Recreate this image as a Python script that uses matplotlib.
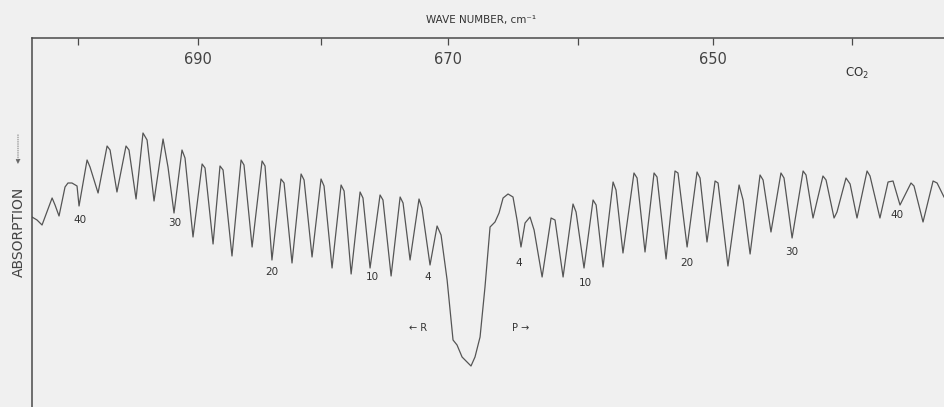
import numpy as np
import matplotlib
matplotlib.use('Agg')
import matplotlib.pyplot as plt

# recorder trace, CO2 bending band (wave number in cm-1, pen deflection in chart units)
wavenumber = [703.93, 703.50, 703.07, 702.21, 701.96, 701.62, 701.11, 700.86, 700.52, 700.09,
              699.92, 699.24, 698.99, 698.31, 697.55, 697.30, 696.72, 695.96, 695.71, 695.12,
              694.54, 694.20, 693.62, 692.87, 692.46, 691.96, 691.30, 691.05, 690.39, 689.64,
              689.40, 688.74, 688.17, 687.92, 687.19, 686.45, 686.21, 685.55, 684.74, 684.50,
              683.94, 683.21, 682.96, 682.32, 681.59, 681.35, 680.71, 679.99, 679.75, 679.11,
              678.39, 678.15, 677.59, 676.88, 676.65, 676.09, 675.30, 675.07, 674.43, 673.72,
              673.49, 672.94, 672.24, 672.01, 671.38, 670.83, 670.52, 670.05, 669.59, 669.28,
              668.89, 668.51, 668.20, 667.89, 667.50, 667.12, 666.73, 666.35, 666.04, 665.73,
              665.35, 664.97, 664.66, 664.36, 664.05, 663.67, 663.36, 662.75, 662.07, 661.77,
              661.16, 660.41, 660.18, 659.58, 658.90, 658.67, 658.15, 657.40, 657.18, 656.66,
              655.84, 655.61, 655.02, 654.35, 654.13, 653.46, 652.80, 652.58, 651.91, 651.18,
              650.96, 650.45, 649.86, 649.64, 648.92, 648.11, 647.82, 647.31, 646.59, 646.37,
              645.80, 645.08, 644.86, 644.28, 643.49, 643.28, 642.78, 642.07, 641.85, 641.28,
              641.07, 640.43, 640.14, 639.65, 638.94, 638.73, 638.03, 637.46, 637.11, 636.62,
              635.85, 635.64, 635.01, 634.31, 634.03, 633.55]
trace = [190, 187, 182, 209, 202, 191, 220, 224, 224, 221,
         201, 247, 240, 214, 261, 257, 215, 261, 257, 208,
         274, 267, 206, 268, 240, 194, 257, 249, 170, 243,
         239, 163, 241, 237, 151, 247, 242, 160, 246, 241,
         147, 228, 224, 144, 233, 227, 150, 228, 221, 139,
         222, 216, 133, 215, 209, 139, 212, 207, 131, 210,
         204, 147, 208, 199, 142, 181, 172, 127, 67, 62,
         50, 45, 41, 50, 70, 120, 180, 185, 194, 209,
         213, 210, 187, 160, 184, 190, 177, 130, 189, 187,
         130, 203, 195, 139, 207, 202, 140, 225, 217, 154,
         234, 229, 155, 234, 230, 148, 236, 234, 160, 235,
         229, 165, 226, 224, 141, 222, 207, 153, 232, 227,
         175, 234, 229, 169, 236, 232, 189, 231, 227, 189,
         195, 229, 223, 189, 236, 231, 189, 225, 226, 202,
         224, 221, 185, 226, 224, 210]

# rotational line numbers written on the chart
line_labels = ['40', '30', '20', '10', '4', '4', '10', '20', '30', '40']
line_label_wn = [699.84, 691.88, 683.94, 675.94, 671.54, 664.51, 659.50, 651.91, 644.28, 636.83]
line_label_y = [187, 184, 135, 130, 130, 144, 124, 144, 155, 192]

major_ticks = [690, 670, 650]
minor_ticks = [700, 680, 660, 640]

ink = '#4a4a4a'
paper = '#f0f0f0'

fig = plt.figure(figsize=(9.44, 4.07), dpi=100, facecolor=paper)
ax = fig.add_axes([32 / 944, 0.0, 912 / 944, 369 / 407], facecolor=paper)

# chart paper runs linear in wavelength, so the wave number scale is 1/x
def fwd(w):
    w = np.asarray(w, dtype=float)
    with np.errstate(divide='ignore'):
        return -1e4 / w

def inv(u):
    u = np.asarray(u, dtype=float)
    with np.errstate(divide='ignore'):
        return -1e4 / u

ax.set_xscale('function', functions=(fwd, inv))
ax.plot(wavenumber, trace, color='#555555', lw=0.9)
ax.set_xlim(703.93, 633.55)
ax.set_ylim(0, 369)

ax.set_xticks(major_ticks, labels=[str(t) for t in major_ticks])
ax.set_xticks(minor_ticks, minor=True)
ax.xaxis.set_ticks_position('top')
ax.tick_params(axis='x', which='both', direction='in', length=5, width=0.9, color=ink,
               top=True, bottom=False, labeltop=True, labelbottom=False,
               pad=-21, labelsize=10.5, labelcolor='#444444')
ax.set_yticks([])
for side in ['bottom', 'right']:
    ax.spines[side].set_visible(False)
for side in ['top', 'left']:
    ax.spines[side].set_color(ink)
    ax.spines[side].set_linewidth(1.1)

for lab, w, y in zip(line_labels, line_label_wn, line_label_y):
    ax.text(w, y, lab, fontsize=7.5, color='#333333', ha='center', va='center')

ax.text(672.32, 79, '\u2190 R', fontsize=7, color='#333333', ha='center', va='center')
ax.text(664.36, 79, 'P \u2192', fontsize=7, color='#333333', ha='center', va='center')
ax.text(639.65, 334, 'CO$_2$', fontsize=8.5, color='#333333', ha='center', va='center')

fig.text(481 / 944, 1 - 20 / 407, 'WAVE NUMBER, cm\u207b\u00b9', fontsize=7.5,
         color='#333333', ha='center', va='center')
fig.text(19 / 944, 1 - 232 / 407, 'ABSORPTION', rotation=90, fontsize=10,
         color='#444444', ha='center', va='center')
fig.add_artist(matplotlib.patches.FancyArrowPatch(
    (18 / 944, 1 - 132 / 407), (18 / 944, 1 - 167 / 407), transform=fig.transFigure,
    arrowstyle='-|>', mutation_scale=7, color='#666666', lw=0.6, linestyle=':'))

fig.savefig('out.png', dpi=100, facecolor=paper)
